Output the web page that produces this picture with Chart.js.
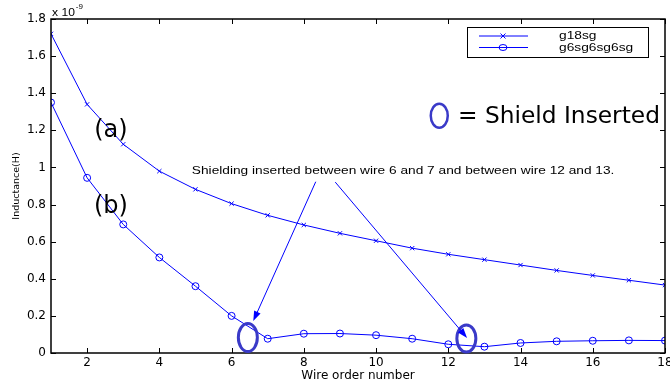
<!DOCTYPE html>
<html>
<head>
<style>
  body { margin: 0; background: #fff; }
  #wrap { position: relative; width: 670px; height: 383px; }
</style>
<script src="https://cdn.jsdelivr.net/npm/chart.js@4/dist/chart.umd.min.js"></script>
</head>
<body>
<div id="wrap"><canvas id="c" width="670" height="383"></canvas></div>
<script>
// inductance values in units of 1e-9 H
var wires = [1, 2, 3, 4, 5, 6, 7, 8, 9, 10, 11, 12, 13, 14, 15, 16, 17, 18];
var g18sg = [1.72, 1.34, 1.125, 0.98, 0.882, 0.805, 0.742, 0.69, 0.645, 0.605, 0.565, 0.532, 0.503, 0.474, 0.445, 0.418, 0.392, 0.366];
var g6sg6sg6sg = [1.35, 0.944, 0.693, 0.515, 0.36, 0.20, 0.077, 0.104, 0.105, 0.096, 0.077, 0.047, 0.034, 0.054, 0.063, 0.066, 0.068, 0.067];
var seriesNames = ['g18sg', 'g6sg6sg6sg'];
var xTicks = [2, 4, 6, 8, 10, 12, 14, 16, 18];
var yTicks = [0, 0.2, 0.4, 0.6, 0.8, 1, 1.2, 1.4, 1.6, 1.8];
var yTickLabels = ['0', '0.2', '0.4', '0.6', '0.8', '1', '1.2', '1.4', '1.6', '1.8'];

var FONT = '"Liberation Sans", Arial, sans-serif';
var DJ = '"DejaVu Sans", Verdana, sans-serif';
var BLUE = '#0000ff';
var SHIELD = '#3a3ac8';

function toPts(ys) {
    return wires.map(function (w, i) { return { x: w, y: ys[i] }; });
}

// helvetica in the original looks a bit wide, so stretch it sideways
function wideText(ctx, txt, x, y, sx) {
    ctx.save();
    ctx.translate(x, y);
    ctx.scale(sx, 1);
    ctx.fillText(txt, 0, 0);
    ctx.restore();
}

function arrow(ctx, x1, y1, x2, y2) {
    var a = Math.atan2(y2 - y1, x2 - x1);
    var len = 10, half = 3.5;
    ctx.beginPath();
    ctx.moveTo(x1, y1);
    ctx.lineTo(x2 - Math.cos(a) * len * 0.8, y2 - Math.sin(a) * len * 0.8);
    ctx.stroke();
    ctx.beginPath();
    ctx.moveTo(x2, y2);
    ctx.lineTo(x2 - Math.cos(a) * len - Math.sin(a) * half, y2 - Math.sin(a) * len + Math.cos(a) * half);
    ctx.lineTo(x2 - Math.cos(a) * len + Math.sin(a) * half, y2 - Math.sin(a) * len - Math.cos(a) * half);
    ctx.closePath();
    ctx.fill();
}

// matlab style box, inward ticks, legend and annotations
var extras = {
    id: 'extras',
    afterDatasetsDraw: function (chart) {
        var ctx = chart.ctx, ca = chart.chartArea;
        var xs = chart.scales.x, ys = chart.scales.y;
        var X = function (v) { return xs.getPixelForValue(v); };
        var Y = function (v) { return ys.getPixelForValue(v); };
        ctx.save();

        // box
        ctx.strokeStyle = '#000';
        ctx.lineWidth = 1.5;
        ctx.strokeRect(ca.left, ca.top, ca.right - ca.left, ca.bottom - ca.top);
        ctx.lineWidth = 1;
        ctx.beginPath();
        xTicks.forEach(function (v) {
            var px = Math.round(X(v)) + 0.5;
            ctx.moveTo(px, ca.bottom); ctx.lineTo(px, ca.bottom - 5);
            ctx.moveTo(px, ca.top); ctx.lineTo(px, ca.top + 5);
        });
        yTicks.forEach(function (v) {
            var py = Math.round(Y(v)) + 0.5;
            ctx.moveTo(ca.left, py); ctx.lineTo(ca.left + 5, py);
            ctx.moveTo(ca.right, py); ctx.lineTo(ca.right - 5, py);
        });
        ctx.stroke();

        // exponent
        ctx.fillStyle = '#000';
        ctx.textBaseline = 'alphabetic';
        ctx.textAlign = 'left';
        ctx.font = '11px ' + FONT;
        wideText(ctx, 'x 10', ca.left + 1, ca.top - 3, 1.1);
        var ew = ctx.measureText('x 10').width * 1.1;
        ctx.font = '8px ' + FONT;
        ctx.fillText('-9', ca.left + 2 + ew, ca.top - 10);

        // legend
        var lx = ca.right - 198, ly = ca.top + 8, lw = 181, lh = 30;
        ctx.fillStyle = '#fff';
        ctx.fillRect(lx, ly, lw, lh);
        ctx.strokeStyle = '#000';
        ctx.lineWidth = 1;
        ctx.strokeRect(lx + 0.5, ly + 0.5, lw, lh);
        ctx.strokeStyle = BLUE;
        ctx.fillStyle = '#000';
        ctx.font = '11px ' + FONT;
        ctx.textBaseline = 'middle';
        seriesNames.forEach(function (name, i) {
            var ry = ly + 9 + i * 11.5;
            ctx.beginPath();
            ctx.moveTo(lx + 12, ry); ctx.lineTo(lx + 61, ry);
            ctx.stroke();
            var mx = lx + 36;
            ctx.beginPath();
            if (i === 0) {
                ctx.moveTo(mx - 2.5, ry - 2.5); ctx.lineTo(mx + 2.5, ry + 2.5);
                ctx.moveTo(mx - 2.5, ry + 2.5); ctx.lineTo(mx + 2.5, ry - 2.5);
            } else {
                ctx.ellipse(mx, ry, 4, 3, 0, 0, Math.PI * 2);
            }
            ctx.stroke();
            wideText(ctx, name, lx + 92, ry, 1.25);
        });

        // shield legend
        ctx.strokeStyle = SHIELD;
        ctx.lineWidth = 2.5;
        ctx.beginPath();
        ctx.ellipse(X(11.75), Y(1.279), 8.5, 12, 0, 0, Math.PI * 2);
        ctx.stroke();
        ctx.fillStyle = '#000';
        ctx.font = '23.3px ' + DJ;
        ctx.textAlign = 'left';
        ctx.textBaseline = 'middle';
        ctx.fillText('= Shield Inserted', X(12.27), Y(1.27));

        // curve labels
        ctx.font = '24px ' + DJ;
        ctx.textAlign = 'center';
        ctx.fillText('(a)', X(2.66), Y(1.2));
        ctx.fillText('(b)', X(2.66), Y(0.79));

        // shields
        ctx.strokeStyle = SHIELD;
        ctx.lineWidth = 3;
        ctx.beginPath();
        ctx.ellipse(X(6.45), Y(0.083), 9.5, 14, 0, 0, Math.PI * 2);
        ctx.stroke();
        ctx.beginPath();
        ctx.ellipse(X(12.5), Y(0.078), 9.5, 13.5, 0, 0, Math.PI * 2);
        ctx.stroke();

        // note + arrows
        ctx.fillStyle = '#000';
        ctx.font = '11px ' + FONT;
        ctx.textAlign = 'left';
        ctx.textBaseline = 'alphabetic';
        wideText(ctx, 'Shielding inserted between wire 6 and 7 and between wire 12 and 13.', X(4.9), Y(0.965), 1.245);
        ctx.strokeStyle = BLUE;
        ctx.fillStyle = BLUE;
        ctx.lineWidth = 1;
        arrow(ctx, X(8.33), Y(0.923), X(6.6), Y(0.172));
        arrow(ctx, X(8.87), Y(0.921), X(12.52), Y(0.081));
        ctx.restore();
    }
};

new Chart(document.getElementById('c'), {
    type: 'line',
    data: {
        datasets: [{
            label: seriesNames[0],
            data: toPts(g18sg),
            borderColor: BLUE,
            borderWidth: 1,
            pointStyle: 'crossRot',
            pointRadius: 3,
            pointBorderColor: BLUE,
            pointBorderWidth: 1
        }, {
            label: seriesNames[1],
            data: toPts(g6sg6sg6sg),
            borderColor: BLUE,
            borderWidth: 1,
            pointStyle: 'circle',
            pointRadius: 3.5,
            pointBackgroundColor: 'rgba(0,0,0,0)',
            pointBorderColor: BLUE,
            pointBorderWidth: 1
        }]
    },
    options: {
        responsive: false,
        animation: false,
        layout: { padding: { top: 19, right: 5, left: 0, bottom: 0 } },
        plugins: { legend: { display: false }, tooltip: { enabled: false } },
        scales: {
            x: {
                type: 'linear',
                min: 1,
                max: 18,
                grid: { display: false, drawTicks: false },
                border: { display: false },
                afterBuildTicks: function (s) { s.ticks = xTicks.map(function (v) { return { value: v }; }); },
                afterFit: function (s) { s.height = 30; s.paddingLeft = 0; s.paddingRight = 0; },
                ticks: { color: '#000', padding: 3, maxRotation: 0, font: { family: DJ, size: 12 } },
                title: { display: true, text: 'Wire order number', color: '#000', padding: 0, font: { family: DJ, size: 12 } }
            },
            y: {
                min: 0,
                max: 1.8,
                grid: { display: false, drawTicks: false },
                border: { display: false },
                afterBuildTicks: function (s) { s.ticks = yTicks.map(function (v) { return { value: v }; }); },
                afterFit: function (s) { s.width = 51; },
                ticks: {
                    color: '#000', padding: 5, font: { family: DJ, size: 12 },
                    callback: function (v) { return yTickLabels[yTicks.indexOf(v)]; }
                },
                title: { display: true, text: 'Inductance(H)', color: '#000', padding: { top: 11, bottom: 0 }, font: { family: DJ, size: 9.5 } }
            }
        }
    },
    plugins: [extras]
});
</script>
</body>
</html>
